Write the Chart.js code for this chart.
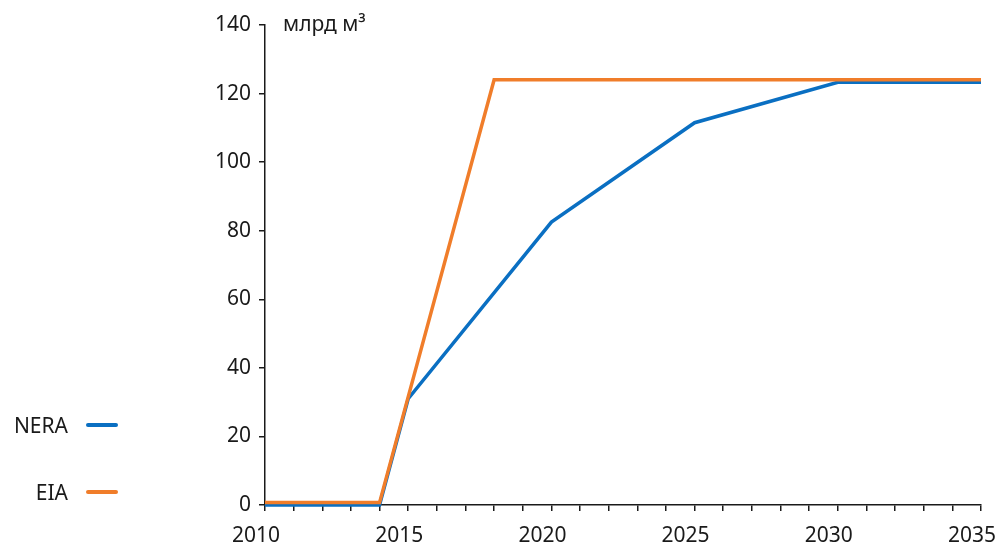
<!DOCTYPE html>
<html>
<head>
<meta charset="utf-8">
<script src="https://cdn.jsdelivr.net/npm/chart.js@4.4.1/dist/chart.umd.min.js"></script>
<style>
    body { margin: 0; background: #fff; font-family: "Noto Sans", sans-serif; overflow: hidden; }
    #wrap { position: relative; width: 1002px; height: 546px; }
    .legend-item { position: absolute; left: 0; width: 120px; height: 24px; font-size: 21px; color: #1a1a1a; }
    .legend-item span { position: absolute; right: 52px; top: -2px; }
    .legend-item i { position: absolute; left: 86px; top: 10px; width: 32px; height: 4px; border-radius: 2px; }
</style>
</head>
<body>
<div id="wrap">
    <canvas id="chartCanvas" width="1002" height="546"></canvas>
    <div class="legend-item" style="top: 413px;"><span>NERA</span><i style="background:#0a6fc2"></i></div>
    <div class="legend-item" style="top: 480px;"><span>EIA</span><i style="background:#f07d2a"></i></div>
</div>
<script>
// Series data
const neraYears = [2010, 2014, 2015, 2020, 2025, 2030, 2035];
const neraValues = [0, 0, 31, 82.5, 111.5, 123.3, 123.3];
const eiaYears = [2010, 2014, 2018, 2035];
const eiaValues = [0.7, 0.7, 124, 124];
const unitLabel = 'млрд м³';

const toPoints = (xs, ys) => xs.map((x, i) => ({ x: x, y: ys[i] }));

// unit label next to the top of the y axis
const unitPlugin = {
    id: 'unitLabel',
    afterDraw(chart) {
        const ctx = chart.ctx;
        ctx.save();
        ctx.font = '21px "Noto Sans"';
        ctx.fillStyle = '#1a1a1a';
        ctx.textBaseline = 'middle';
        ctx.fillText(unitLabel, chart.chartArea.left + 18, chart.chartArea.top);
        ctx.restore();
    }
};

const tickFont = { family: 'Noto Sans', size: 21 };

new Chart(document.getElementById('chartCanvas').getContext('2d'), {
    type: 'line',
    data: {
        datasets: [{
            label: 'EIA',
            data: toPoints(eiaYears, eiaValues),
            borderColor: '#f07d2a',
            borderWidth: 3.5,
            pointRadius: 0,
            clip: false
        }, {
            label: 'NERA',
            data: toPoints(neraYears, neraValues),
            borderColor: '#0a6fc2',
            borderWidth: 3.5,
            pointRadius: 0,
            clip: false
        }]
    },
    options: {
        responsive: false,
        animation: false,
        layout: { padding: { top: 25, right: 21, left: 0, bottom: 0 } },
        plugins: { legend: { display: false }, tooltip: { enabled: false } },
        scales: {
            x: {
                type: 'linear',
                min: 2010,
                max: 2035,
                afterFit(scale) {
                    scale.height = 41;
                    scale.paddingRight = 0;
                    scale.paddingLeft = 0;
                },
                border: { display: true, color: '#1a1a1a', width: 1.5 },
                grid: { drawOnChartArea: false, tickLength: 6, color: '#1a1a1a', lineWidth: 1.5 },
                ticks: {
                    stepSize: 1,
                    autoSkip: false,
                    maxRotation: 0,
                    padding: 12,
                    labelOffset: -9,
                    color: '#1a1a1a',
                    font: tickFont,
                    callback: v => (v % 5 === 0 ? String(v) : '')
                }
            },
            y: {
                min: 0,
                max: 140,
                afterFit(scale) { scale.width = 265; },
                border: { display: true, color: '#1a1a1a', width: 1.5 },
                grid: { drawOnChartArea: false, tickLength: 6, color: '#1a1a1a', lineWidth: 1.5 },
                ticks: { stepSize: 20, padding: 8, color: '#1a1a1a', font: tickFont }
            }
        }
    },
    plugins: [unitPlugin]
});
</script>
</body>
</html>
